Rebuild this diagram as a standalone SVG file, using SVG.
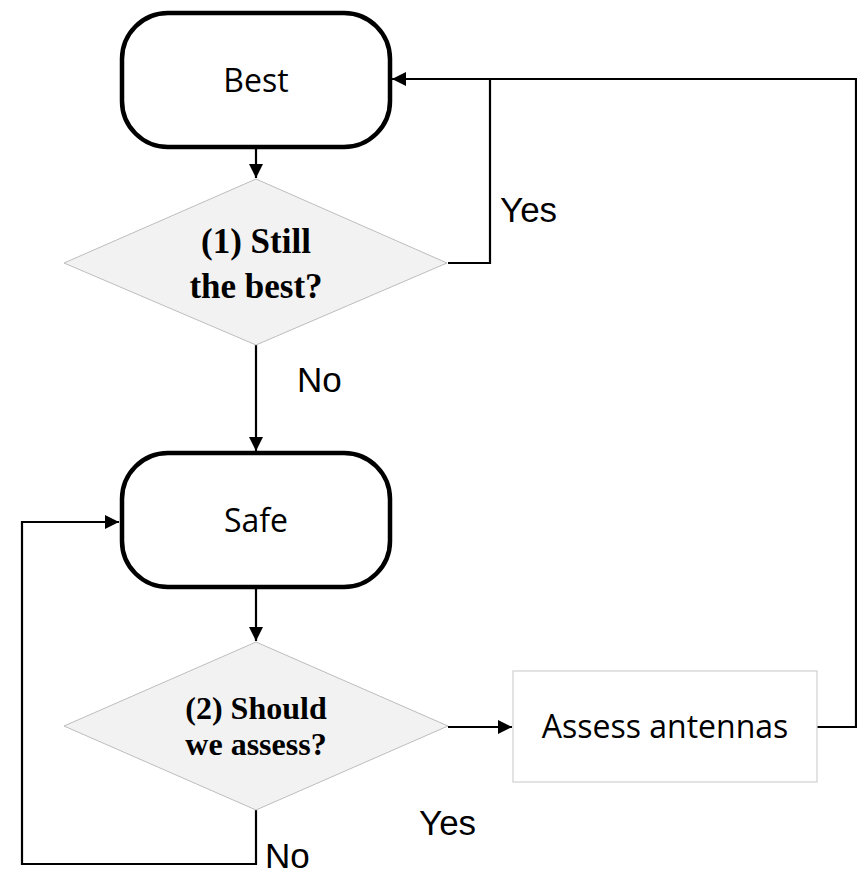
<svg xmlns="http://www.w3.org/2000/svg" width="857" height="875" viewBox="0 0 857 875">
<defs>
<marker id="arr" viewBox="0 0 14 14" refX="14" refY="7" markerWidth="14" markerHeight="14" markerUnits="userSpaceOnUse" orient="auto">
<path d="M0,0 L14,7 L0,14 Z" fill="#000"/>
</marker>
<style>
.term{fill:#fff;stroke:#000;stroke-width:4.5}
.dec{fill:#f2f2f2;stroke:#bdbdbd;stroke-width:1}
.proc{fill:#fff;stroke:#d0d0d0;stroke-width:1.2}
.t{font-family:"Open Sans","Liberation Sans",sans-serif;font-size:32px;fill:#000;text-anchor:middle}
.q{font-family:"Liberation Serif",serif;font-weight:bold;fill:#000;text-anchor:middle}
.lbl{font-family:"Liberation Sans",Arial,sans-serif;font-size:35px;fill:#000}
.c{fill:none;stroke:#000;stroke-width:2.2}
</style>
</defs>
<rect width="857" height="875" fill="#fff"/>
<g id="connectors">
<path class="c" d="M256,149 V178" marker-end="url(#arr)"/>
<path class="c" d="M256,345 V451" marker-end="url(#arr)"/>
<path class="c" d="M256,589 V641" marker-end="url(#arr)"/>
<path class="c" d="M448,263 H490 V79"/>
<path class="c" d="M817,727 H856 V79 H392" marker-end="url(#arr)"/>
<path class="c" d="M448,727 H512" marker-end="url(#arr)"/>
<path class="c" d="M256,810 V864 H22 V522 H119" marker-end="url(#arr)"/>
</g>
<g id="best">
<rect class="term" x="122" y="13" width="268" height="134" rx="46" ry="46"/>
<text class="t" x="256" y="92">Best</text>
</g>
<g id="still-best">
<polygon class="dec" points="256,179 447,263 256,345 64,263"/>
<text class="q" font-size="35" x="256" y="253">(1) Still</text>
<text class="q" font-size="35" x="256" y="298">the best?</text>
</g>
<g id="safe">
<rect class="term" x="122" y="453" width="268" height="134" rx="46" ry="46"/>
<text class="t" x="256" y="532">Safe</text>
</g>
<g id="should-assess">
<polygon class="dec" points="256,642 448,726 256,810 64,726"/>
<text class="q" font-size="32" x="256" y="719">(2) Should</text>
<text class="q" font-size="32" x="256" y="755">we assess?</text>
</g>
<g id="assess-antennas">
<rect class="proc" x="513" y="671" width="304" height="111"/>
<text class="t" x="665" y="738">Assess antennas</text>
</g>
<g id="labels">
<text class="lbl" x="500" y="222">Yes</text>
<text class="lbl" x="297" y="392">No</text>
<text class="lbl" x="419" y="835">Yes</text>
<text class="lbl" x="265" y="868">No</text>
</g>
</svg>
